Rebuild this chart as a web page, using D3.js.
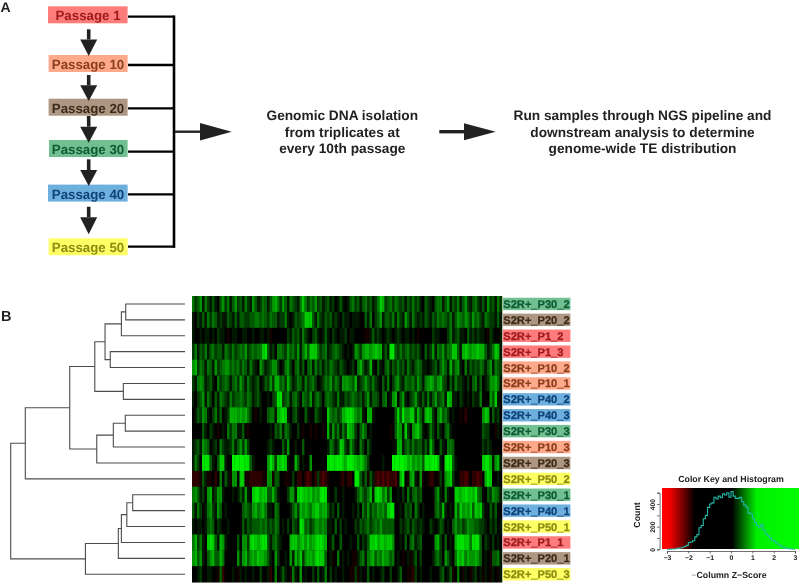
<!DOCTYPE html>
<html>
<head>
<meta charset="utf-8">
<title>Passage heatmap</title>
<script src="https://cdn.jsdelivr.net/npm/d3@7"></script>
<style>
  html, body { margin: 0; padding: 0; background: #ffffff; }
  svg { display: block; font-family: "Liberation Sans", Arial, sans-serif; filter: blur(0.3px); }
  text { font-weight: bold; text-rendering: geometricPrecision; }
</style>
</head>
<body>
<svg id="figure" width="800" height="583"></svg>
<script>
/* Panel A */
var passageNames = ["Passage 1", "Passage 10", "Passage 20", "Passage 30", "Passage 40", "Passage 50"];
var passageKeys = ["P1", "P10", "P20", "P30", "P40", "P50"];
var passageFills = ["#ff7c7c", "#ffa98c", "#ad9783", "#72bf92", "#6db0dd", "#ffff66"];
var passageInks = ["#a01c1c", "#8a3f1c", "#3d2b1a", "#0f5c34", "#10427a", "#8c8c12"];

var isolationLines = ["Genomic DNA isolation", "from triplicates at", "every 10th passage"];
var pipelineLines = ["Run samples through NGS pipeline and", "downstream analysis to determine", "genome-wide TE distribution"];

/* Panel B, rows top to bottom */
var rowLabels = [
  "S2R+_P30_2", "S2R+_P20_2", "S2R+_P1_2", "S2R+_P1_3", "S2R+_P10_2", "S2R+_P10_1",
  "S2R+_P40_2", "S2R+_P40_3", "S2R+_P30_3", "S2R+_P10_3", "S2R+_P20_3", "S2R+_P50_2",
  "S2R+_P30_1", "S2R+_P40_1", "S2R+_P50_1", "S2R+_P1_1", "S2R+_P20_1", "S2R+_P50_3"
];

/* Heatmap cells read by eye, four stretches of columns per row.
 * 0-9 are rising green levels, a-c are rising red levels */
var heatLeft = [
  "4235142131035241352314215312431",
  "1021314243121132131332233443432",
  "10010110102110a0110011001001101",
  "2413241342331432423435234344783",
  "5624314315234553434243142105312",
  "2145412310423431342531421230132",
  "1023514203143214233432431231001",
  "0132541024130126665656420a01003",
  "0000310210a01042441130a00000000",
  "1231543012042112413525200000001",
  "1420888310377100999998831000005",
  "bbba31aa0b04031a55077aabbbbbaa5",
  "4531205612551000101315107886773",
  "3142014521530100000034325645641",
  "1011013430210010000031323334342",
  "4624107873165100003055278767883",
  "5635103563364000005156356576653",
  "0012001100a3b00010a101001002001"
];
var heatMidLeft = [
  "3564253143214742435231231201310",
  "4331224101323477731421323121021",
  "a000000213231421023101310210112",
  "1204432534251463777423412343210",
  "3552014520341303414231324321321",
  "5266342631243142342012435243155",
  "0238823413420432513420343214113",
  "4416787102310031003210074342367",
  "1032414310020a00a0a00a061524142",
  "2100031500100300000000014312762",
  "8627787100630100500000089889976",
  "5a3300aa020bb0bcb0b2bcba0000ab0",
  "3631000255178776756589810020010",
  "1043000013526565467756631203010",
  "3243010203218734235545411030201",
  "1342100067756757567887601300300",
  "1052001051647256657877301a04010",
  "b0401310a4105010020301402010010"
];
var heatMidRight = [
  "1342313423124762342432313242310",
  "1011100314023513324142153142121",
  "0110000aa1312101210121011010a00",
  "1015425665676613188324234232310",
  "0120463126103103413242314213431",
  "5436123532421031402452143342531",
  "2343231351332034015603510235213",
  "8875451066100000000373855772631",
  "76520353010000000a0365172056741",
  "1531042031000000000166134242331",
  "9987676420000010009999986756563",
  "bb098313a31bcbcbcbbc0680a56105a",
  "0001353246178746250010204134230",
  "0010204252435453788001032304201",
  "0002132342343533333002123132121",
  "0100302137786776775001030341230",
  "10aa134145635465534010a01a13020",
  "0aa2a1003010012002001300aab2010"
];
var heatRight = [
  "3210344135132413521342131523142",
  "3213243432413543542534214322131",
  "0002110002412311031212110a21001",
  "3125143524477316765667663124761",
  "1012313531624510413232431351432",
  "4565356320314221020341301255641",
  "1413523417611021010211400053710",
  "67620463420100a0b00000057603120",
  "0142031034100000000000032200a10",
  "3163003104430000000000021210000",
  "8889971089931000000000078861561",
  "0abb0a20567200bbcb0bbcb06870010",
  "0000351041007767877684300325431",
  "0000342610106375657376720031300",
  "0021013201035342354433221021201",
  "0000562030106888774888302102010",
  "00013420531047674655653010a3341",
  "00100023013a040a10a1201a10a10a1"
];

var levelScores = {
  "0": 0, "1": 0.17, "2": 0.33, "3": 0.48, "4": 0.62, "5": 0.76, "6": 0.9, "7": 1.02, "8": 1.14, "9": 1.26,
  "a": -1.8, "b": -1.92, "c": -2.08
};

/* Dendrogram merges, bottom up. Numbers are rows, "nK" is merge K */
var mergeLeft = [0, "n0", 3, "n1", 5, "n3", 7, "n6", "n7", "n5", "n9", 12, "n11", "n12", "n13", "n14", "n10"];
var mergeRight = [1, 2, 4, "n2", 6, "n4", 8, 9, 10, "n8", 11, 13, 14, 15, 16, 17, "n15"];
var mergeHeights = [2.72, 2.92, 3.43, 3.67, 2.83, 4.14, 2.74, 3.29, 4.05, 5.29, 7.33, 2.40, 2.67, 2.92, 3.06, 4.57, 8.0];

/* Colour key histogram, counts per 0.1 of z-score starting from -3 */
var histogramCounts = [
  0, 1, 2, 3, 5, 10, 12, 18, 25, 35,
  60, 65, 75, 110, 130, 190, 210, 270, 300, 370,
  400, 410, 460, 445, 470, 455, 490, 480, 500, 460,
  510, 470, 450, 450, 460, 420, 390, 370, 320, 315,
  270, 240, 210, 190, 220, 170, 140, 120, 100, 80,
  70, 55, 40, 30, 20, 12, 8, 5, 3, 1, 0
];
var keyTicks = [-3, -2, -1, 0, 1, 2, 3];
var countTicks = [0, 100, 200, 300, 400, 500];

var colorScale = d3.scaleLinear()
  .domain([-3.12, -2.85, -1.7, 0.05, 1.2, 3.3])
  .range(["#ff0000", "#f00000", "#000000", "#000000", "#00f000", "#00ff00"])
  .clamp(true);

var svg = d3.select("#figure");

/**
 * drawArrow
 *
 * Draw a thick line ending in a filled triangle, either way round.
 */
function drawArrow(parent, x0, y0, x1, y1, headAt, headHalf, shaftWidth) {
  parent.append("line")
    .attr("x1", x0).attr("y1", y0)
    .attr("x2", x0 === x1 ? x1 : headAt)
    .attr("y2", x0 === x1 ? headAt : y1)
    .attr("stroke", "#222222")
    .attr("stroke-width", shaftWidth);
  var points = x0 === x1 ?
    [[x1 - headHalf, headAt], [x1 + headHalf, headAt], [x1, y1]] :
    [[headAt, y1 - headHalf], [headAt, y1 + headHalf], [x1, y1]];
  parent.append("polygon")
    .attr("points", points.join(" "))
    .attr("fill", "#222222");
}

function drawPanelA() {
  var g = svg.append("g").attr("class", "panel-a");
  var boxTops = [6.3, 55, 98.7, 140, 184.6, 238.3];
  var boxLefts = [48, 48.6, 48.6, 49, 48, 48.6];
  var busYs = [16.7, 65, 108.3, 151.7, 194.3, 246.7];
  var boxHeight = 17;
  var busX = 174;

  g.append("text").attr("x", 0.5).attr("y", 11.5)
    .attr("font-size", 14).attr("fill", "#222222").text("A");

  passageNames.forEach(function onEachPassage(name, i) {
    var midY = boxTops[i] + (boxHeight / 2);
    g.append("rect")
      .attr("x", boxLefts[i]).attr("y", boxTops[i])
      .attr("width", 127.6 - boxLefts[i]).attr("height", boxHeight)
      .attr("fill", passageFills[i]);
    g.append("text")
      .attr("x", 88).attr("y", midY + 5.5)
      .attr("text-anchor", "middle")
      .attr("font-size", 13.3)
      .attr("fill", passageInks[i])
      .text(name);
    g.append("line")
      .attr("x1", 128).attr("x2", busX).attr("y1", busYs[i]).attr("y2", busYs[i])
      .attr("stroke", "#000000").attr("stroke-width", 2.3);
  });

  g.append("line")
    .attr("x1", busX).attr("x2", busX)
    .attr("y1", busYs[0] - 1.2)
    .attr("y2", busYs[5] + 1.2)
    .attr("stroke", "#000000").attr("stroke-width", 2.6);

  /* Arrows between the passage boxes */
  var downArrows = [[29.3, 39.5, 56], [75, 85.3, 101], [116, 126.7, 142.7], [159.3, 170, 186], [206.7, 217.3, 234.3]];
  downArrows.forEach(function onEachDownArrow(a) {
    drawArrow(g, 88.7, a[0], 88.7, a[2], a[1], 8.5, 3.6);
  });

  drawArrow(g, 175, 131.7, 231.7, 131.7, 200, 8.8, 2.4);
  drawArrow(g, 439.3, 131.7, 495.7, 131.7, 464, 8.5, 3.4);

  [[isolationLines, 342.3], [pipelineLines, 642.5]].forEach(function onEachBlock(block) {
    block[0].forEach(function onEachLine(line, i) {
      g.append("text")
        .attr("x", block[1]).attr("y", 120.3 + (i * 16.3))
        .attr("text-anchor", "middle")
        .attr("font-size", 13.7)
        .attr("fill", "#222222")
        .text(line);
    });
  });
}

function drawHeatmap(rowScale) {
  var heatRows = rowLabels.map(function onEachRow(label, i) {
    return (heatLeft[i] + heatMidLeft[i] + heatMidRight[i] + heatRight[i]).split("");
  });
  var columnCount = d3.max(heatRows, function rowLength(r) { return r.length; });
  var colScale = d3.scaleBand().domain(d3.range(columnCount)).range([192, 502]);

  var g = svg.append("g").attr("class", "heatmap");
  g.append("rect")
    .attr("x", 192).attr("y", rowScale.range()[0])
    .attr("width", 310).attr("height", rowScale.range()[1] - rowScale.range()[0])
    .attr("fill", "#000000");

  heatRows.forEach(function onEachRow(cells, i) {
    g.selectAll(null)
      .data(cells)
      .enter()
      .append("rect")
      .attr("x", function cellX(d, j) { return colScale(j); })
      .attr("y", rowScale(rowLabels[i]))
      .attr("width", colScale.bandwidth() + 0.3)
      .attr("height", rowScale.bandwidth() + 0.2)
      .attr("fill", function cellFill(d) { return colorScale(levelScores[d]); });
  });
}

function drawRowLabels(rowScale) {
  var g = svg.append("g").attr("class", "row-labels");
  rowLabels.forEach(function onEachLabel(label) {
    var key = label.split("_")[1];
    var index = passageKeys.indexOf(key);
    var midY = rowScale(label) + (rowScale.bandwidth() / 2);
    g.append("rect")
      .attr("x", 502.8).attr("y", midY - 6.2)
      .attr("width", 67.6).attr("height", 12.4)
      .attr("fill", passageFills[index]);
    /* The thin underscores vanish without a touch of stroke */
    g.append("text")
      .attr("x", 503.3).attr("y", midY + 4)
      .attr("font-size", 11.1)
      .attr("fill", passageInks[index])
      .attr("stroke", passageInks[index])
      .attr("stroke-width", 0.3)
      .text(label);
  });
}

function drawDendrogram(rowScale) {
  var g = svg.append("g").attr("class", "dendrogram");
  var heightScale = d3.scaleLinear().domain([0, 8]).range([185, 10.7]);
  var nodes = [];

  function resolve(ref) {
    if (typeof ref === "number") {
      return { label: rowLabels[ref], height: 0 };
    }
    return nodes[Number(ref.slice(1))];
  }

  mergeHeights.forEach(function onEachMerge(height, i) {
    nodes.push({
      height: height,
      children: [resolve(mergeLeft[i]), resolve(mergeRight[i])]
    });
  });

  var root = d3.hierarchy(nodes[nodes.length - 1]);

  root.eachAfter(function placeNode(node) {
    node.px = heightScale(node.data.height);
    if (node.children) {
      node.py = d3.mean(node.children, function childY(c) { return c.py; });
    } else {
      node.py = rowScale(node.data.label) + (rowScale.bandwidth() / 2);
    }
  });

  root.descendants().forEach(function onEachNode(node) {
    if (!node.children) {
      return;
    }
    var path = d3.path();
    path.moveTo(node.children[0].px, node.children[0].py);
    path.lineTo(node.px, node.children[0].py);
    path.lineTo(node.px, node.children[1].py);
    path.lineTo(node.children[1].px, node.children[1].py);
    g.append("path")
      .attr("d", path.toString())
      .attr("fill", "none")
      .attr("stroke", "#4c4c4c")
      .attr("stroke-width", 1.1);
  });

  svg.append("text").attr("x", 1).attr("y", 320.5)
    .attr("font-size", 14.5).attr("fill", "#222222").text("B");
}

function drawColorKey() {
  var g = svg.append("g").attr("class", "color-key");
  var keyX = d3.scaleLinear().domain([-3, 3]).range([667, 795]);
  var keyY = d3.scaleLinear().domain([0, 500]).range([549.3, 492.7]);
  var keyLeft = 662;
  var keyRight = 799;
  var keyTop = 488;

  /* Whole-pixel strips so no white shows between them */
  d3.range(keyLeft, keyRight, 1).forEach(function onEachStrip(px) {
    g.append("rect")
      .attr("x", px).attr("y", keyTop)
      .attr("width", 1).attr("height", 61)
      .attr("shape-rendering", "crispEdges")
      .attr("fill", colorScale(keyX.invert(px + 0.5)));
  });

  var histogramLine = d3.line()
    .x(function pointX(d, i) { return keyX(-3 + (i * 0.1)); })
    .y(function pointY(d) { return keyY(d); })
    .curve(d3.curveStepAfter);

  g.append("path")
    .attr("d", histogramLine(histogramCounts))
    .attr("fill", "none")
    .attr("stroke", "#22b8a8")
    .attr("stroke-width", 1.1);

  var xAxis = d3.axisBottom(keyX).tickValues(keyTicks).tickSize(2.5).tickFormat(function fmt(d) {
    return String(d).replace("-", "\u2212");
  });
  var xGroup = g.append("g").attr("transform", "translate(0,551)").call(xAxis);
  xGroup.selectAll("text").attr("font-size", 6.8).attr("y", 8.5).attr("dy", 0)
    .attr("fill", "#222222").attr("font-family", "Liberation Sans");

  var yAxis = d3.axisLeft(keyY).tickValues(countTicks).tickSize(2.5).tickFormat(function fmt(d) {
    return d % 200 === 0 ? d : "";
  });
  var yGroup = g.append("g").attr("transform", "translate(659.6,0)").call(yAxis);
  yGroup.selectAll("text")
    .filter(function isBlank() { return this.textContent === ""; })
    .remove();
  yGroup.selectAll("text")
    .attr("font-size", 6.8)
    .attr("fill", "#222222")
    .attr("font-family", "Liberation Sans")
    .attr("x", 0)
    .attr("y", 0)
    .attr("dy", 0)
    .attr("text-anchor", "middle")
    .attr("transform", "translate(-5,0) rotate(-90)");

  g.selectAll(".domain").attr("stroke", "#333333").attr("stroke-width", 0.7);
  g.selectAll(".tick line").attr("stroke", "#333333").attr("stroke-width", 0.7);

  g.append("text").attr("x", 731).attr("y", 482)
    .attr("text-anchor", "middle").attr("font-size", 8.8).attr("fill", "#222222")
    .text("Color Key and Histogram");

  var xTitle = g.append("text").attr("x", 729).attr("y", 578)
    .attr("text-anchor", "middle").attr("font-size", 8.8).attr("fill", "#222222");
  xTitle.append("tspan").attr("fill-opacity", 0.4).text("\u2212");
  xTitle.append("tspan").text("Column Z\u2212Score");

  g.append("text")
    .attr("transform", "translate(640,515) rotate(-90)")
    .attr("text-anchor", "middle").attr("font-size", 8.8).attr("fill", "#222222")
    .text("Count");
}

document.addEventListener("DOMContentLoaded", function onDOMLoaded() {
  var rowScale = d3.scaleBand().domain(rowLabels).range([296, 582.2]);
  drawPanelA();
  drawDendrogram(rowScale);
  drawHeatmap(rowScale);
  drawRowLabels(rowScale);
  drawColorKey();
});
</script>
</body>
</html>
